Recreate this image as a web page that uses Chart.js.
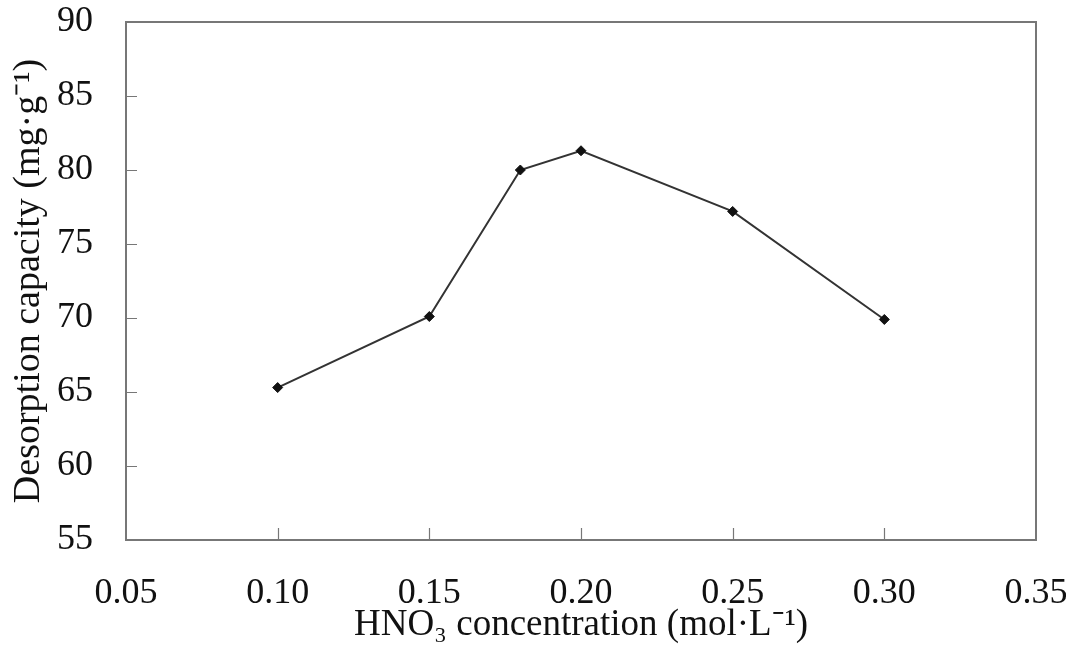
<!DOCTYPE html>
<html>
<head>
<meta charset="utf-8">
<script src="https://cdn.jsdelivr.net/npm/chart.js@4"></script>
<style>
  html, body { margin: 0; padding: 0; background: #fff; }
  #wrap { width: 1066px; height: 649px; }
</style>
</head>
<body>
<div id="wrap"><canvas id="desorption"></canvas></div>
<script>
const concentration = [0.10, 0.15, 0.18, 0.20, 0.25, 0.30];
const capacity = [65.3, 70.1, 80.0, 81.3, 77.2, 69.9];
const xTicks = [0.05, 0.10, 0.15, 0.20, 0.25, 0.30, 0.35];
const yTicks = [55, 60, 65, 70, 75, 80, 85, 90];

const serif = "'Liberation Serif', 'Times New Roman', serif";
const axisColor = '#777';

// box round the plot area plus inward tick marks
const frameTicks = {
    id: 'frameTicks',
    afterDraw(chart) {
        const ctx = chart.ctx;
        const a = chart.chartArea;
        const xs = chart.scales.x;
        const ys = chart.scales.y;
        ctx.save();
        ctx.strokeStyle = axisColor;
        ctx.lineWidth = 2;
        ctx.strokeRect(a.left, a.top, a.right - a.left, a.bottom - a.top);
        ctx.lineWidth = 1.2;
        ctx.beginPath();
        xTicks.slice(1, -1).forEach(v => {
            const px = Math.round(xs.getPixelForValue(v)) + 0.5;
            ctx.moveTo(px, a.bottom);
            ctx.lineTo(px, a.bottom - 12);
        });
        yTicks.slice(1, -1).forEach(v => {
            const py = Math.round(ys.getPixelForValue(v)) + 0.5;
            ctx.moveTo(a.left, py);
            ctx.lineTo(a.left + 11, py);
        });
        ctx.stroke();
        ctx.restore();
    }
};

const chart = new Chart(document.getElementById('desorption'), {
    type: 'line',
    data: {
        datasets: [{
            data: concentration.map((c, i) => ({x: c, y: capacity[i]})),
            borderColor: '#333',
            borderWidth: 2,
            pointStyle: 'rectRot',
            pointRadius: 5,
            pointBackgroundColor: '#111',
            pointBorderColor: '#111',
            pointBorderWidth: 1,
            tension: 0
        }]
    },
    options: {
        responsive: true,
        maintainAspectRatio: false,
        animation: false,
        layout: {padding: {left: 0, top: 22, right: 30, bottom: 0}},
        plugins: {
            legend: {display: false},
            tooltip: {enabled: false}
        },
        scales: {
            x: {
                type: 'linear',
                min: 0.05,
                max: 0.35,
                afterBuildTicks: s => { s.ticks = xTicks.map(v => ({value: v})); },
                afterFit: s => { s.height = 109; s.paddingLeft = 0; s.paddingRight = 0; },
                grid: {display: false, drawTicks: false},
                border: {display: false},
                ticks: {
                    color: '#111',
                    font: {family: serif, size: 36},
                    padding: 32,
                    maxRotation: 0,
                    callback: v => v.toFixed(2)
                },
                title: {
                    display: true,
                    text: 'HNO\u2083 concentration (mol\u00b7L\u207b\u00b9)',
                    color: '#111',
                    font: {family: serif, size: 37},
                    padding: {top: 0, bottom: 2}
                }
            },
            y: {
                min: 55,
                max: 90,
                afterBuildTicks: s => { s.ticks = yTicks.map(v => ({value: v})); },
                afterFit: s => { s.width = 126; s.paddingTop = 0; s.paddingBottom = 0; },
                grid: {display: false, drawTicks: false},
                border: {display: false},
                ticks: {
                    color: '#111',
                    font: {family: serif, size: 36},
                    padding: 33
                },
                title: {
                    display: true,
                    text: 'Desorption capacity (mg\u00b7g\u207b\u00b9)',
                    color: '#111',
                    font: {family: serif, size: 38},
                    padding: {top: 6, bottom: 0}
                }
            }
        }
    },
    plugins: [frameTicks]
});
</script>
</body>
</html>
